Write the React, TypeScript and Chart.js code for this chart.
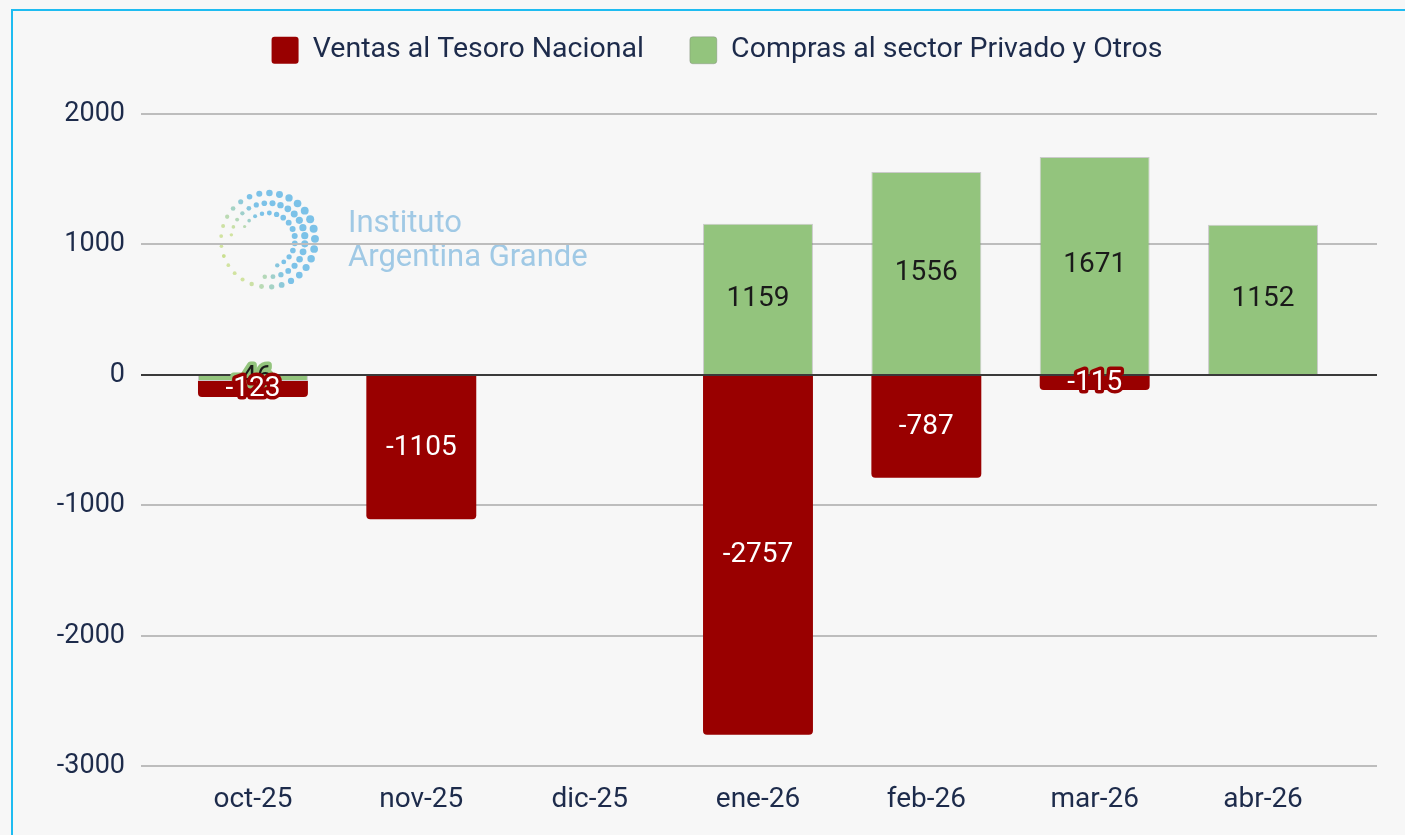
import React, { useEffect, useRef } from 'react';
import { Chart, registerables } from 'chart.js';

Chart.register(...registerables);

// ---- Data ----
const categories = ['oct-25', 'nov-25', 'dic-25', 'ene-26', 'feb-26', 'mar-26', 'abr-26'];
const ventasTesoro: (number | null)[] = [-123, -1105, null, -2757, -787, -115, null];
const comprasPrivado: (number | null)[] = [-46, null, null, 1159, 1556, 1671, 1152];
const yTicks = [-3000, -2000, -1000, 0, 1000, 2000];
const seriesNames = ['Ventas al Tesoro Nacional', 'Compras al sector Privado y Otros'];
const watermarkLines = ['Instituto', 'Argentina Grande'];

// ---- Styles ----
const FONT = 'Roboto, "Noto Sans", "Liberation Sans", sans-serif';
const NAVY = '#1d2b4b';
const RED = '#990000';
const GREEN = '#93c47d';
const LABEL_COLORS = ['#ffffff', '#1a1a1a'];

const legendSpacer = {
  id: 'legendSpacer',
  beforeInit(chart: any) {
    const legend = chart.legend;
    if (!legend) return;
    const fit = legend.fit;
    legend.fit = function () {
      fit.call(this);
      this.height += 39.5;
    };
  },
};

const watermark = {
  id: 'watermark',
  beforeDraw(chart: any) {
    const { ctx, chartArea } = chart;
    if (!chartArea) return;
    const cx = chartArea.left + 127;
    const cy = chartArea.top + 126;
    ctx.save();
    const rings = [
      { r: 47, n: 30, s: 4.0, a0: -200, a1: 160 },
      { r: 37, n: 22, s: 3.6, a0: -172, a1: 95 },
      { r: 27, n: 15, s: 3.0, a0: -150, a1: 70 },
    ];
    const blue = [96, 182, 228];
    const yg = [200, 222, 140];
    rings.forEach((ring) => {
      for (let k = 0; k < ring.n; k++) {
        const deg = ring.a0 + ((ring.a1 - ring.a0) * k) / (ring.n - 1);
        const a = (deg * Math.PI) / 180;
        const px = cx + ring.r * Math.cos(a);
        const py = cy + ring.r * Math.sin(a);
        const bigness = 0.45 + 0.55 * (0.5 + 0.5 * Math.cos(a + 0.3));
        const t = Math.max(0, Math.min(1, -Math.cos(a + 0.45) * 1.3));
        const col = blue.map((b, i) => Math.round(b + (yg[i] - b) * t));
        ctx.beginPath();
        ctx.fillStyle = `rgba(${col[0]},${col[1]},${col[2]},0.82)`;
        ctx.arc(px, py, Math.max(1.4, ring.s * bigness), 0, Math.PI * 2);
        ctx.fill();
      }
    });
    ctx.fillStyle = '#a0c9e5';
    ctx.font = `31px ${FONT}`;
    ctx.textAlign = 'left';
    ctx.textBaseline = 'middle';
    ctx.fillText(watermarkLines[0], chartArea.left + 207, chartArea.top + 110);
    ctx.fillText(watermarkLines[1], chartArea.left + 207, chartArea.top + 144);
    ctx.restore();
  },
};

const barLabels = {
  id: 'barLabels',
  afterDatasetsDraw(chart: any) {
    const { ctx } = chart;
    ctx.save();
    ctx.font = `28px ${FONT}`;
    ctx.textAlign = 'center';
    ctx.textBaseline = 'middle';
    ctx.lineJoin = 'round';
    [1, 0].forEach((di) => {
      const meta = chart.getDatasetMeta(di);
      const ds = chart.data.datasets[di];
      meta.data.forEach((el: any, i: number) => {
        const v = ds.data[i].y;
        if (v === null || v === undefined) return;
        const { x, y, base } = el.getProps(['x', 'y', 'base'], true);
        const my = (y + base) / 2;
        const h = Math.abs(base - y);
        const text = String(v);
        if (h < 30) {
          ctx.lineWidth = 7;
          ctx.strokeStyle = ds.backgroundColor;
          ctx.strokeText(text, x, my);
        }
        ctx.fillStyle = LABEL_COLORS[di];
        ctx.fillText(text, x, my);
      });
    });
    ctx.restore();
  },
};

export default function App() {
  const ref = useRef<HTMLCanvasElement | null>(null);

  useEffect(() => {
    if (!ref.current) return;
    const chart = new Chart(ref.current, {
      type: 'bar',
      data: {
        datasets: [
          {
            label: seriesNames[0],
            data: categories.map((_, i) => ({ x: i, y: ventasTesoro[i] })) as any,
            backgroundColor: RED,
            borderColor: RED,
            borderWidth: 0,
            borderRadius: 4,
            borderSkipped: 'start',
            order: 1,
            barPercentage: 1,
            categoryPercentage: 0.653,
          },
          {
            label: seriesNames[1],
            data: categories.map((_, i) => ({ x: i, y: comprasPrivado[i] })) as any,
            backgroundColor: GREEN,
            borderColor: 'rgba(120,120,120,0.35)',
            borderWidth: 1,
            borderRadius: 0,
            borderSkipped: 'start',
            order: 0,
            barPercentage: 1,
            categoryPercentage: 0.653,
          },
        ],
      },
      options: {
        animation: false,
        responsive: true,
        maintainAspectRatio: false,
        layout: { padding: { left: 57, right: 28, top: -10, bottom: 1 } },
        plugins: {
          legend: {
            position: 'top',
            align: 'center',
            labels: {
              boxWidth: 27,
              boxHeight: 27,
              padding: 46,
              color: NAVY,
              font: { family: FONT, size: 28.5 },
              useBorderRadius: true,
              borderRadius: 3,
              sort: (a: any, b: any) => a.datasetIndex - b.datasetIndex,
            },
          },
          tooltip: { enabled: false },
        },
        scales: {
          x: {
            type: 'linear',
            offset: false,
            min: -0.665,
            max: 6.677,
            stacked: true,
            grid: { display: false, drawTicks: false, offset: false },
            border: { display: false },
            afterBuildTicks: (s: any) => {
              s.ticks = categories.map((_, i) => ({ value: i }));
            },
            ticks: {
              autoSkip: false,
              maxRotation: 0,
              padding: 17,
              color: NAVY,
              font: { family: FONT, size: 28 },
              callback: (v: any) => categories[v] ?? '',
            },
          },
          y: {
            stacked: true,
            min: yTicks[0],
            max: yTicks[yTicks.length - 1],
            afterBuildTicks: (s: any) => {
              s.ticks = yTicks.map((v) => ({ value: v }));
            },
            afterFit: (s: any) => {
              s.width = 84;
            },
            grid: {
              drawTicks: false,
              color: (c: any) => (c.tick && c.tick.value === 0 ? '#3a3a3a' : '#bdbdbd'),
              lineWidth: 2,
            },
            border: { display: false },
            ticks: {
              padding: 16,
              color: NAVY,
              font: { family: FONT, size: 27 },
              callback: (v: any) => String(v),
            },
          },
        },
      } as any,
      plugins: [legendSpacer, watermark, barLabels],
    });
    return () => chart.destroy();
  }, []);

  return (
    <div style={{ position: 'fixed', left: 0, top: 0, width: 1405, height: 835, background: '#f7f7f7' }}>
      <div style={{ position: 'absolute', left: 0, top: 0, width: 1405, height: 835 }}>
        <canvas ref={ref} />
      </div>
      <div
        style={{
          position: 'absolute',
          left: 11,
          top: 9,
          right: -10,
          bottom: -10,
          borderLeft: '2px solid #1ebcf1',
          borderTop: '2px solid #1ebcf1',
          pointerEvents: 'none',
        }}
      />
    </div>
  );
}
